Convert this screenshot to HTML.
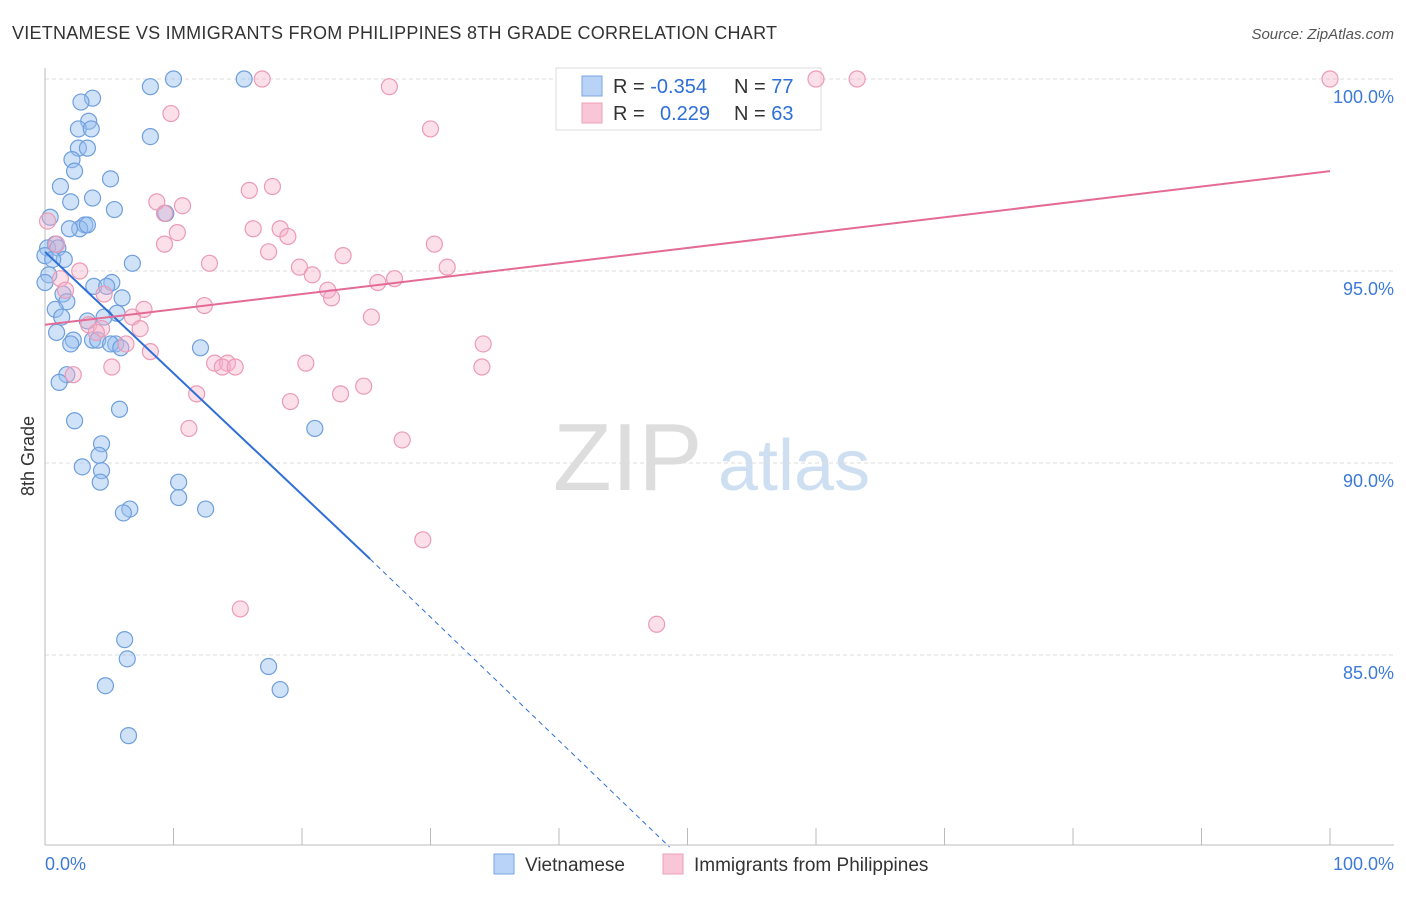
<!DOCTYPE html>
<html><head><meta charset="utf-8"><style>
body{margin:0;background:#fff;font-family:"Liberation Sans",sans-serif}
svg text{font-family:"Liberation Sans",sans-serif}
</style></head><body>
<svg id="c" width="1406" height="892" xmlns="http://www.w3.org/2000/svg">
<text x="12" y="39" font-size="18" fill="#333" textLength="765">VIETNAMESE VS IMMIGRANTS FROM PHILIPPINES 8TH GRADE CORRELATION CHART</text>
<text x="1394" y="39" font-size="15" font-style="italic" fill="#555" text-anchor="end">Source: ZipAtlas.com</text>
<text x="34" y="456" font-size="18" fill="#333" text-anchor="middle" transform="rotate(-90 34 456)">8th Grade</text>
<text x="553" y="490" font-size="96" fill="#ddd" font-family="Liberation Serif">ZIP</text>
<text x="718" y="490" font-size="72" fill="#cfdff2">atlas</text>
<g id="grid"></g>
<g>
<rect x="556" y="68" width="265" height="62" fill="#fff" stroke="#ddd"/>
<rect x="582" y="76" width="20" height="20" fill="#b8d3f5" stroke="#7aa6e0"/>
<rect x="582" y="103" width="20" height="20" fill="#f8c6d6" stroke="#eba0b8"/>
<text x="613" y="93" font-size="20" fill="#333">R = <tspan fill="#2f6fd6">-0.354</tspan></text>
<text x="734" y="93" font-size="20" fill="#333">N = <tspan fill="#2f6fd6">77</tspan></text>
<text x="613" y="120" font-size="20" fill="#333">R = </text><text x="660" y="120" font-size="20" fill="#2f6fd6">0.229</text>
<text x="734" y="120" font-size="20" fill="#333">N = <tspan fill="#2f6fd6">63</tspan></text>
</g>
<g id="pts"></g><g id="lines"></g>
<g>
<rect x="494" y="854" width="20" height="20" fill="#b8d3f5" stroke="#7aa6e0"/>
<text x="525" y="871" font-size="19" fill="#333">Vietnamese</text>
<rect x="663" y="854" width="20" height="20" fill="#f8c6d6" stroke="#eba0b8"/>
<text x="694" y="871" font-size="19" fill="#333">Immigrants from Philippines</text>
</g>
<text x="45" y="870" font-size="18" fill="#3d7ad8">0.0%</text>
<text x="1394" y="870" font-size="18" fill="#3d7ad8" text-anchor="end">100.0%</text>
</svg>
<script>
const yTicks=[100,95,90,85];
const yTickLabels=["100.0%","95.0%","90.0%","85.0%"];
const xTicks=[0,10,20,30,40,50,60,70,80,90,100];
const viet=[[10,100],[15.5,100],[8.2,99.8],[3.7,99.5],[2.8,99.4],[3.4,98.9],[2.6,98.7],[3.6,98.7],[8.2,98.5],[2.6,98.2],[3.3,98.2],[2.1,97.9],[2.3,97.6],[5.1,97.4],[1.2,97.2],[2,96.8],[3.7,96.9],[5.4,96.6],[9.4,96.5],[0.4,96.4],[3.1,96.2],[2.7,96.1],[1.9,96.1],[3.3,96.2],[0.8,95.7],[0.2,95.6],[1,95.6],[0,95.4],[1.5,95.3],[0.6,95.3],[6.8,95.2],[0.3,94.9],[0,94.7],[5.2,94.7],[3.8,94.6],[4.8,94.6],[1.4,94.4],[6,94.3],[1.7,94.2],[0.8,94],[5.6,93.9],[1.3,93.8],[4.6,93.8],[3.3,93.7],[0.9,93.4],[2.2,93.2],[3.7,93.2],[2,93.1],[4.1,93.2],[5.5,93.1],[5.1,93.1],[5.9,93],[12.1,93],[1.7,92.3],[1.1,92.1],[5.8,91.4],[2.3,91.1],[21,90.9],[4.4,90.5],[4.2,90.2],[2.9,89.9],[4.4,89.8],[4.3,89.5],[10.4,89.5],[10.4,89.1],[12.5,88.8],[6.6,88.8],[6.1,88.7],[6.2,85.4],[6.4,84.9],[17.4,84.7],[4.7,84.2],[18.3,84.1],[6.5,82.9]];
const phil=[[16.9,100],[60,100],[63.2,100],[100,100],[26.8,99.8],[9.8,99.1],[30,98.7],[17.7,97.2],[15.9,97.1],[8.7,96.8],[10.7,96.7],[9.3,96.5],[0.2,96.3],[16.2,96.1],[10.3,96],[18.3,96.1],[18.9,95.9],[9.3,95.7],[30.3,95.7],[17.4,95.5],[0.9,95.7],[23.2,95.4],[12.8,95.2],[19.8,95.1],[2.7,95],[20.8,94.9],[31.3,95.1],[25.9,94.7],[27.2,94.8],[1.2,94.8],[1.6,94.5],[22,94.5],[22.3,94.3],[4.6,94.4],[12.4,94.1],[7.7,94],[25.4,93.8],[6.8,93.8],[3.4,93.6],[4.4,93.5],[7.4,93.5],[4,93.4],[34.1,93.1],[6.3,93.1],[8.2,92.9],[13.2,92.6],[14.2,92.6],[13.8,92.5],[14.8,92.5],[20.3,92.6],[5.2,92.5],[34,92.5],[2.2,92.3],[24.8,92],[23,91.8],[11.8,91.8],[19.1,91.6],[11.2,90.9],[27.8,90.6],[29.4,88],[15.2,86.2],[47.6,85.8]];
const bluePts=[[0,95.5],[25.3,87.5],[48.6,80]];
const pinkPts=[[0,93.6],[100,97.6]];
const NS="http://www.w3.org/2000/svg";
const X=v=>45+v*12.85, Y=v=>79+(100-v)*38.4;
function mk(t,a,p){const e=document.createElementNS(NS,t);for(const k in a)e.setAttribute(k,a[k]);p.appendChild(e);return e;}
const g=document.getElementById('grid');
yTicks.forEach((t,i)=>{
 const l=mk('line',{x1:45,x2:1394,y1:Y(t),y2:Y(t),stroke:'#ddd','stroke-dasharray':'4,3'},g);
 
 
 const tx=mk('text',{x:1394,y:Y(t)+24,'font-size':18,fill:'#3d7ad8','text-anchor':'end'},g);
 tx.textContent=yTickLabels[i];
 
 
});
mk('line',{x1:45,x2:45,y1:68,y2:845,stroke:'#bbb'},g);
mk('line',{x1:45,x2:1394,y1:845,y2:845,stroke:'#bbb'},g);
xTicks.forEach(t=>{const l=mk('line',{x1:X(t),x2:X(t),y1:828,y2:845,stroke:'#bbb'},g);
 
 });
const p=document.getElementById('pts');
viet.forEach(d=>{const c=mk('circle',{cx:X(d[0]),cy:Y(d[1]),r:8,fill:'rgba(150,190,240,0.45)',stroke:'#6f9fdc','stroke-width':1.2},p);
 
 });
phil.forEach(d=>{const c=mk('circle',{cx:X(d[0]),cy:Y(d[1]),r:8,fill:'rgba(245,175,200,0.4)',stroke:'#ec9bb5','stroke-width':1.2},p);
 
 });
const L=document.getElementById('lines');
const b1=mk('line',{x1:X(bluePts[0][0]),y1:Y(bluePts[0][1]),x2:X(bluePts[1][0]),y2:Y(bluePts[1][1]),stroke:'#2f6fd6','stroke-width':2},L);


const b2=mk('line',{x1:X(bluePts[1][0]),y1:Y(bluePts[1][1]),x2:X(bluePts[2][0]),y2:Y(bluePts[2][1]),stroke:'#2f6fd6','stroke-width':1,'stroke-dasharray':'5,4'},L);


const pl=mk('line',{x1:X(pinkPts[0][0]),y1:Y(pinkPts[0][1]),x2:X(pinkPts[1][0]),y2:Y(pinkPts[1][1]),stroke:'#e36b95','stroke-width':2},L);


</script>
</body></html>
